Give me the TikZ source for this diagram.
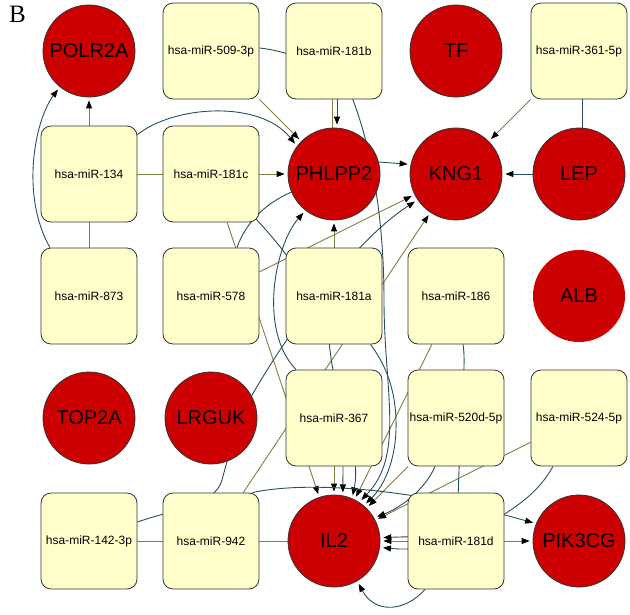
\documentclass[tikz,border=0pt]{standalone}
\usepackage{fontspec}
\setmainfont{Liberation Sans}
\newfontfamily\serifB{Liberation Serif}
\usetikzlibrary{arrows.meta,backgrounds}
\definecolor{boxfill}{RGB}{255,255,204}
\definecolor{nodered}{RGB}{204,0,0}
\definecolor{edgeolive}{RGB}{128,128,64}
\definecolor{edgeteal}{RGB}{40,80,92}
\definecolor{bordergray}{RGB}{51,51,51}
\begin{document}
\begin{tikzpicture}[x=1pt,y=-1pt,
  mirbox/.style={draw=bordergray, line width=0.8pt, fill=boxfill, rounded corners=10pt,
    minimum width=96pt, minimum height=96pt, inner sep=1pt, font=\fontsize{12}{14}\selectfont},
  gene/.style={circle, draw=bordergray, line width=0.8pt, fill=nodered, minimum size=92pt,
    inner sep=1pt, font=\fontsize{20}{24}\selectfont},
  olv/.style={draw=edgeolive, line width=0.9pt},
  tl/.style={draw=edgeteal, line width=0.9pt},
  arr/.style={-{Triangle[length=8pt,width=6pt,color=black]}, shorten >=3pt},
]
\useasboundingbox (0,0) rectangle (630,614);
\node[anchor=base west, inner sep=0pt, font=\serifB\fontsize{25}{25}\selectfont] (lblB) at (9,22) {B};
% row 1
\node[gene] (polr2a) at (89,51) {POLR2A};
\node[mirbox] (n509) at (211,51) {hsa-miR-509-3p};
\node[mirbox] (n181b) at (334,51) {hsa-miR-181b};
\node[gene] (tf) at (456,51) {TF};
\node[mirbox] (n361) at (579,51) {hsa-miR-361-5p};
% row 2
\node[mirbox] (n134) at (89,174) {hsa-miR-134};
\node[mirbox] (n181c) at (211,174) {hsa-miR-181c};
\node[gene] (phlpp2) at (334,174) {PHLPP2};
\node[gene] (kng1) at (456,174) {KNG1};
\node[gene] (lep) at (579,174) {LEP};
% row 3
\node[mirbox] (n873) at (89,296) {hsa-miR-873};
\node[mirbox] (n578) at (211,296) {hsa-miR-578};
\node[mirbox] (n181a) at (334,296) {hsa-miR-181a};
\node[mirbox] (n186) at (456,296) {hsa-miR-186};
\node[gene, draw=none] (alb) at (579,296) {ALB};
% row 4
\node[gene] (top2a) at (89,418) {TOP2A};
\node[gene] (lrguk) at (211,418) {LRGUK};
\node[mirbox] (n367) at (334,418) {hsa-miR-367};
\node[mirbox] (n520d) at (456,418) {hsa-miR-520d-5p};
\node[mirbox] (n524) at (579,418) {hsa-miR-524-5p};
% row 5
\node[mirbox] (n142) at (89,541) {hsa-miR-142-3p};
\node[mirbox] (n942) at (211,541) {hsa-miR-942};
\node[gene] (il2) at (334,541) {IL2};
\node[mirbox] (n181d) at (456,541) {hsa-miR-181d};
\node[gene] (pik3cg) at (579,541) {PIK3CG};

\begin{pgfonlayer}{background}
% olive edges
\draw[olv,arr] (n873) -- (polr2a);
\draw[olv,arr] (n134) -- (phlpp2);
\draw[olv,arr] (n509) -- (phlpp2);
\draw[olv] ([xshift=-2pt]n181b.south) -- ([xshift=-2pt]phlpp2.north);
\draw[olv,arr] (n181a) -- (phlpp2);
\draw[olv,arr] (n361) -- (kng1);
\draw[olv,arr] (n578) -- (kng1);
\draw[olv,arr] (n942) -- (kng1);
\draw[olv,arr] (n181c) -- (il2);
\draw[olv,arr] (n367) -- (il2);
\draw[olv,arr] (n186) -- (il2);
\draw[olv,arr] (n520d) -- (il2);
\draw[olv,arr] (n524) -- (il2);
\draw[olv,arr] (n181d) -- (il2);
\draw[olv,arr] (n181d) -- (pik3cg);
\draw[olv] (n142) -- (il2);
% teal edges
\draw[tl,arr] ([xshift=-39pt]n873.north) .. controls (20,195) and (35,120) .. (polr2a.-129);
\draw[tl,arr] ([yshift=-9pt]n134.north east) .. controls (175,105) and (260,100) .. (phlpp2.143);
\draw[tl,arr] ([xshift=3pt]n181b.south) -- ([xshift=3pt]phlpp2.north);
\draw[tl,arr] (phlpp2.15) -- (kng1.168);
\draw[tl,arr] (lep) -- (kng1);
\draw[tl] ([xshift=3pt]n361.south) -- ([xshift=3pt]lep.north);
\draw[tl] ([xshift=26pt]n578.north) .. controls (245,225) and (262,205) .. (phlpp2.-157);
\draw[tl,arr] ([xshift=-4pt,yshift=4pt]n181c.south east) .. controls (285,250) and (325,300) .. (330,350)
  .. controls (335,400) and (362,450) .. (il2.67);
\draw[tl,arr] ([xshift=-38pt]n367.north) .. controls (258,330) and (275,245) .. (phlpp2.-128);
\draw[tl,arr] ([yshift=19pt]n142.east) .. controls (175,509) and (215,505) .. (222,480)
  .. controls (230,450) and (240,415) .. (255,390)
  .. controls (290,330) and (355,240) .. (kng1.-146);
\draw[tl,arr] ([xshift=-12pt]n181a.south east) .. controls (390,370) and (397,400) .. (396,430)
  .. controls (395,460) and (385,485) .. (il2.50);
\draw[tl,arr] ([yshift=3pt]n509.east) .. controls (300,52) and (345,78) .. (353,100)
  .. controls (372,150) and (384,220) .. (384,300)
  .. controls (384,390) and (405,455) .. (il2.57);
\draw[tl,arr] ([xshift=-21pt]n520d.south) .. controls (425,490) and (400,508) .. (il2.30);
\draw[tl,arr] ([xshift=7pt]n186.south) .. controls (466,360) and (462,400) .. (460,440) -- (458,500)
  .. controls (455,540) and (430,552) .. (il2.-8);
\draw[tl,arr] ([xshift=-31pt]n181d.south) .. controls (405,612) and (375,614) .. (il2.-60);
\draw[tl,arr] ([xshift=-26pt]n524.south) .. controls (540,490) and (520,505) .. (495,520)
  .. controls (460,538) and (420,536) .. (il2.4);
\draw[tl,arr] ([xshift=-7pt]n942.north east) .. controls (300,482) and (400,485) .. (pik3cg.158);
\draw[tl,arr] ([xshift=9pt]n367.south) -- (il2.79);
\end{pgfonlayer}
\end{tikzpicture}
\end{document}
